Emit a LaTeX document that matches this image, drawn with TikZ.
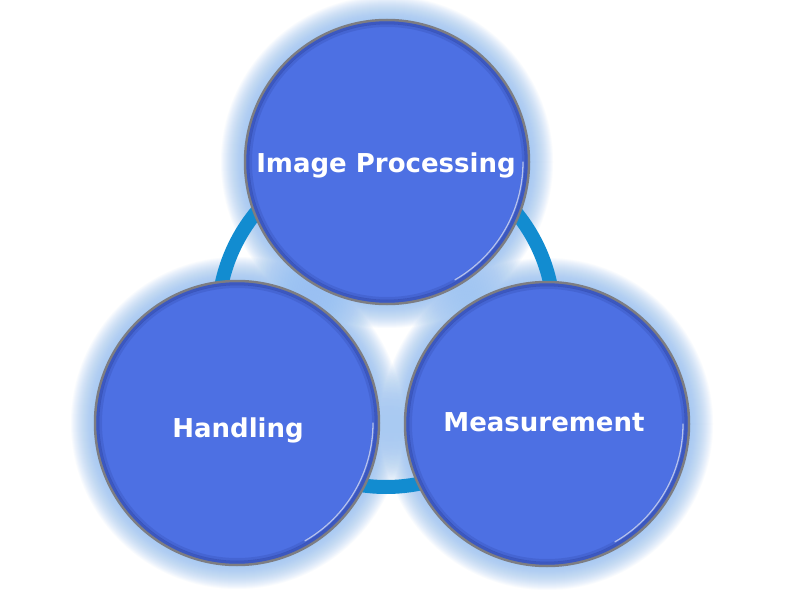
\documentclass[tikz,border=0pt]{standalone}
\usepackage{fontspec}
\setmainfont{DejaVu Sans}
\usetikzlibrary{calc}
\definecolor{discfill}{RGB}{77,112,227}
\definecolor{discedge}{RGB}{125,125,130}
\definecolor{discdark}{RGB}{40,60,150}
\definecolor{glowblue}{RGB}{140,188,242}
\definecolor{ringblue}{RGB}{18,140,208}
\tikzset{
  disc/.style={circle, minimum size=284pt, inner sep=0pt, fill=discfill, draw=discedge, line width=2.5pt},
  disclabel/.style={font=\bfseries\fontsize{26}{30}\selectfont, text=white, anchor=base},
}
\newcommand{\glowat}[3]{%
  \foreach \k in {0,...,22}{
    \fill[glowblue, opacity=0.05] (#1,#2) circle ({#3+24-\k});
  }%
}
\newcommand{\discdeco}[3]{%
  \draw[discdark, opacity=0.45, line width=3pt] (#1,#2) circle ({#3-2.8});
  \draw[discdark, opacity=0.2, line width=3pt] (#1,#2) circle ({#3-5.5});
  \draw[white, opacity=0.6, line width=1.3pt, line cap=round] ($(#1,#2)+(0:{#3-6})$) arc[start angle=0, end angle=60, radius={#3-6}];
}
\begin{document}
\begin{tikzpicture}[x=1pt,y=-1pt]
\useasboundingbox (0,0) rectangle (788,591);
\fill[white] (0,0) rectangle (788,591);
% glows
\glowat{387}{162}{142}
\glowat{237}{423}{142}
\glowat{547}{424}{142}
% ring
\draw[ringblue, line width=14pt] (386,319) circle (168);
% discs
\node[disc] (proc) at (387,162) {};
\node[disc] (hand) at (237,423) {};
\node[disc] (meas) at (547,424) {};
\discdeco{387}{162}{142}
\discdeco{237}{423}{142}
\discdeco{547}{424}{142}
\node[disclabel] (tproc) at (386,173) {Image Processing};
\node[disclabel] (thand) at (238,437) {Handling};
\node[disclabel] (tmeas) at (544,431) {Measurement};
\end{tikzpicture}
\end{document}
